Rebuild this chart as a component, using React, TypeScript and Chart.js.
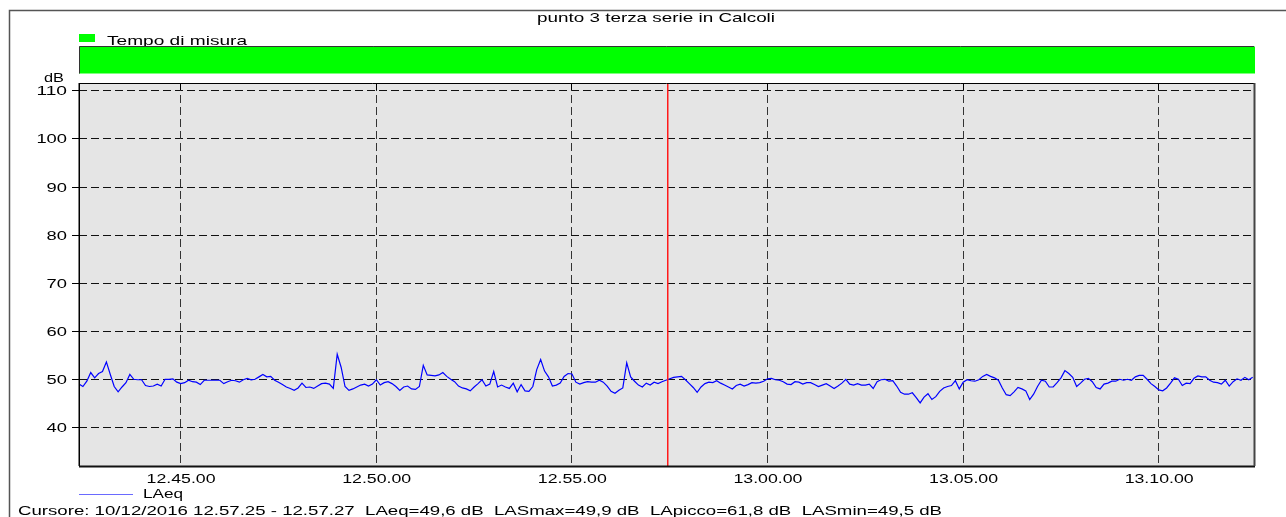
import React, { useEffect, useRef } from "react";
import { Chart, registerables } from "chart.js";

Chart.register(...registerables);

// ---- data ----
const chartTitle = "punto 3 terza serie in Calcoli";
const bandLabel = "Tempo di misura";
const seriesLabel = "LAeq";
const yUnit = "dB";
const cursorText =
  "Cursore: 10/12/2016 12.57.25 - 12.57.27  LAeq=49,6 dB  LASmax=49,9 dB  LApicco=61,8 dB  LASmin=49,5 dB";

// time axis in minutes after 12:00
const startMinute = 42 + 25 / 60; // 12.42.25
const endMinute = 72 + 27 / 60; // 13.12.27
const stepMinute = 0.1; // 6 s samples
const cursorMinute = 57 + 27 / 60; // 12.57.27

const xTickValues = [45, 50, 55, 60, 65, 70];
const xTickLabels = ["12.45.00", "12.50.00", "12.55.00", "13.00.00", "13.05.00", "13.10.00"];
const yTickValues = [40, 50, 60, 70, 80, 90, 100, 110];
const yTickLabels = ["40", "50", "60", "70", "80", "90", "100", "110"];
const yMin = 32;
const yMax = 111.5;

const laeq = [
  49.0, 48.5, 49.6, 51.4, 50.3, 51.2, 51.6, 53.6, 51.0, 48.5,
  47.4, 48.4, 49.3, 51.0, 50.0, 49.9, 49.9, 48.7, 48.5, 48.6,
  49.0, 48.6, 50.0, 50.0, 50.1, 49.4, 49.1, 49.3, 49.8, 49.5,
  49.4, 48.9, 49.8, 49.8, 49.8, 49.8, 49.8, 49.1, 49.5, 49.8,
  49.7, 49.4, 49.9, 50.2, 49.9, 50.0, 50.5, 51.0, 50.5, 50.6,
  49.8, 49.4, 48.9, 48.4, 48.1, 47.7, 48.2, 49.2, 48.3, 48.4,
  48.1, 48.6, 49.1, 49.2, 49.0, 48.1, 55.2, 52.5, 48.5, 47.7,
  48.0, 48.4, 48.8, 49.0, 48.6, 49.0, 49.9, 48.8, 49.3, 49.5,
  49.1, 48.5, 47.7, 48.4, 48.6, 48.0, 47.9, 48.5, 52.9, 50.9,
  50.8, 50.7, 50.9, 51.4, 50.6, 50.0, 49.5, 48.6, 48.2, 48.0,
  47.6, 48.4, 49.1, 49.9, 48.6, 49.0, 51.6, 48.4, 48.8, 48.4,
  48.1, 49.2, 47.4, 48.9, 47.6, 47.5, 48.5, 52.0, 54.1, 51.7,
  50.5, 48.6, 48.8, 49.2, 50.6, 51.2, 51.1, 49.4, 49.0, 49.3,
  49.5, 49.4, 49.4, 49.8, 49.4, 48.6, 47.5, 47.1, 47.7, 48.2,
  53.4, 50.5, 49.6, 48.8, 48.4, 49.2, 48.8, 49.4, 49.1, 49.5,
  49.8, 50.1, 50.4, 50.5, 50.6, 49.9, 49.1, 48.3, 47.3, 48.4,
  49.1, 49.4, 49.3, 49.7, 49.2, 48.8, 48.4, 48.0, 48.7, 49.0,
  48.6, 48.9, 49.3, 49.2, 49.3, 49.6, 50.1, 50.2, 49.9, 49.8,
  49.5, 49.0, 48.9, 49.5, 49.4, 49.0, 49.3, 49.3, 48.9, 48.5,
  48.8, 49.1, 48.6, 48.1, 48.6, 49.2, 50.0, 49.0, 48.8, 49.1,
  48.8, 48.8, 49.0, 48.1, 49.5, 49.9, 50.0, 49.6, 49.7, 48.6,
  47.3, 46.9, 46.9, 47.2, 46.2, 45.1, 46.3, 47.0, 45.8, 46.4,
  47.5, 48.2, 48.5, 48.7, 49.7, 48.0, 49.4, 49.9, 49.7, 49.6,
  49.9, 50.6, 51.0, 50.6, 50.3, 49.8, 48.2, 46.8, 46.6, 47.4,
  48.3, 48.0, 47.6, 45.8, 46.9, 48.5, 49.8, 49.6, 48.4, 48.4,
  49.3, 50.3, 51.8, 51.2, 50.4, 48.5, 49.2, 50.0, 50.2, 49.5,
  48.3, 48.0, 49.0, 49.2, 49.6, 49.6, 50.0, 49.8, 50.0, 49.8,
  50.5, 50.8, 50.8, 50.0, 49.1, 48.5, 47.8, 47.6, 48.2, 49.2,
  50.3, 50.0, 48.7, 49.2, 49.1, 50.2, 50.7, 50.5, 50.5, 49.8,
  49.4, 49.3, 49.0, 49.8, 48.6, 49.5, 50.1, 49.8, 50.4, 49.9,
  50.4,
];

// ---- styling ----
const FONT = '"Liberation Sans", Arial, Helvetica, sans-serif';
const W = 1286;
const H = 517;

function drawText(
  ctx: CanvasRenderingContext2D,
  text: string,
  x: number,
  y: number,
  size: number,
  align: "left" | "center" | "right",
  targetWidth: number | null,
  color = "#000",
  sxDefault = 1.46
) {
  ctx.save();
  ctx.font = `${size}px ${FONT}`;
  ctx.textBaseline = "alphabetic";
  ctx.textAlign = "left";
  ctx.fillStyle = color;
  const natural = ctx.measureText(text).width;
  const sx = targetWidth ? targetWidth / natural : sxDefault;
  const w = natural * sx;
  const left = align === "center" ? x - w / 2 : align === "right" ? x - w : x;
  ctx.translate(left, y);
  ctx.scale(sx, 1);
  ctx.fillText(text, 0, 0);
  ctx.restore();
}

const decorPlugin = {
  id: "decor",
  beforeDatasetsDraw(chart: any) {
    const { ctx, chartArea: a, scales } = chart;
    const xs = scales.x;
    const ys = scales.y;
    ctx.save();
    // plot background
    ctx.fillStyle = "#e5e5e5";
    ctx.fillRect(a.left, a.top, a.right - a.left, a.bottom - a.top);
    // horizontal dashed grid
    ctx.lineWidth = 1;
    ctx.setLineDash([8, 4]);
    ctx.strokeStyle = "#111";
    yTickValues.forEach((v) => {
      const y = Math.round(ys.getPixelForValue(v)) + 0.5;
      ctx.beginPath();
      ctx.moveTo(a.left, y);
      ctx.lineTo(a.right, y);
      ctx.stroke();
    });
    // vertical dashed grid
    ctx.strokeStyle = "#333";
    xTickValues.forEach((v) => {
      const x = Math.round(xs.getPixelForValue(v)) + 0.5;
      ctx.beginPath();
      ctx.moveTo(x, a.top);
      ctx.lineTo(x, a.bottom);
      ctx.stroke();
    });
    ctx.setLineDash([]);
    // short solid ticks at top
    ctx.strokeStyle = "#000";
    const yTop = ys.getPixelForValue(yTickValues[yTickValues.length - 1]);
    xTickValues.forEach((v) => {
      const x = Math.round(xs.getPixelForValue(v)) + 0.5;
      ctx.beginPath();
      ctx.moveTo(x, a.top);
      ctx.lineTo(x, yTop);
      ctx.stroke();
    });
    ctx.restore();
  },
  afterDatasetsDraw(chart: any) {
    const { ctx, chartArea: a, scales } = chart;
    const xs = scales.x;
    const ys = scales.y;
    ctx.save();
    ctx.setLineDash([]);
    // cursor line
    const cx = Math.round(xs.getPixelForValue(cursorMinute));
    ctx.fillStyle = "#ff1a1a";
    ctx.fillRect(cx, a.top, 1.5, a.bottom - a.top);

    // plot borders
    ctx.strokeStyle = "#000";
    ctx.lineWidth = 1;
    ctx.beginPath();
    ctx.moveTo(a.left, a.top + 0.5);
    ctx.lineTo(a.right, a.top + 0.5);
    ctx.stroke();
    ctx.lineWidth = 1.5;
    ctx.beginPath();
    ctx.moveTo(a.left + 0.25, a.top);
    ctx.lineTo(a.left + 0.25, a.bottom);
    ctx.stroke();
    ctx.lineWidth = 2;
    ctx.strokeStyle = "#111";
    ctx.beginPath();
    ctx.moveTo(a.left, a.bottom + 0.5);
    ctx.lineTo(a.right + 1, a.bottom + 0.5);
    ctx.stroke();
    ctx.strokeStyle = "#444";
    ctx.beginPath();
    ctx.moveTo(a.right + 0.5, a.top);
    ctx.lineTo(a.right + 0.5, a.bottom);
    ctx.stroke();

    // y ticks and labels
    ctx.strokeStyle = "#000";
    ctx.lineWidth = 1;
    yTickValues.forEach((v, i) => {
      const y = Math.round(ys.getPixelForValue(v)) + 0.5;
      ctx.beginPath();
      ctx.moveTo(a.left - 7, y);
      ctx.lineTo(a.left, y);
      ctx.stroke();
      const lbl = yTickLabels[i];
      drawText(ctx, lbl, a.left - 12, y + 4.5, 12.5, "right", lbl.length * 10.2);
    });
    drawText(ctx, yUnit, 44, 81.5, 12.5, "left", 20);

    // x labels
    xTickValues.forEach((v, i) => {
      const x = xs.getPixelForValue(v);
      drawText(ctx, xTickLabels[i], x + 1, 483, 12, "center", 69);
    });

    // outer frame
    ctx.strokeStyle = "#555";
    ctx.lineWidth = 1.5;
    ctx.beginPath();
    ctx.moveTo(9.5, H);
    ctx.lineTo(9.5, 10.5);
    ctx.lineTo(W, 10.5);
    ctx.stroke();

    // title
    drawText(ctx, chartTitle, 656, 22, 13, "center", 238);

    // band legend
    ctx.fillStyle = "#00ff00";
    ctx.fillRect(79, 34, 16, 8);
    drawText(ctx, bandLabel, 107, 44.5, 13, "left", 140);

    // green measuring band
    ctx.fillStyle = "#00ff00";
    ctx.fillRect(a.left, 46.5, a.right - a.left + 1, 27);
    ctx.strokeStyle = "#333";
    ctx.lineWidth = 1;
    ctx.beginPath();
    ctx.moveTo(a.left + 0.5, 73.5);
    ctx.lineTo(a.left + 0.5, 46.5);
    ctx.lineTo(a.right, 46.5);
    ctx.stroke();

    // series legend
    ctx.strokeStyle = "#6a6aff";
    ctx.lineWidth = 1;
    ctx.beginPath();
    ctx.moveTo(79, 494.5);
    ctx.lineTo(133, 494.5);
    ctx.stroke();
    drawText(ctx, seriesLabel, 143, 497.5, 13, "left", 40);

    // cursor info
    drawText(ctx, cursorText, 18, 515, 13, "left", 924);
    ctx.restore();
  },
};

export default function App() {
  const ref = useRef<HTMLCanvasElement | null>(null);
  useEffect(() => {
    if (!ref.current) return;
    const points = laeq.map((v, i) => ({ x: startMinute + i * stepMinute, y: v }));
    const chart = new Chart(ref.current, {
      type: "line",
      data: {
        datasets: [
          {
            label: seriesLabel,
            data: points,
            borderColor: "#0000ff",
            borderWidth: 1.2,
            pointRadius: 0,
            tension: 0,
            fill: false,
          },
        ],
      },
      options: {
        animation: false,
        responsive: false,
        maintainAspectRatio: false,
        devicePixelRatio: 1,
        layout: { padding: { left: 79, top: 83, right: 32, bottom: 51 } },
        plugins: {
          legend: { display: false },
          title: { display: false },
          tooltip: { enabled: false },
        },
        scales: {
          x: {
            type: "linear",
            display: false,
            min: startMinute,
            max: endMinute,
          },
          y: {
            type: "linear",
            display: false,
            min: yMin,
            max: yMax,
          },
        },
      },
      plugins: [decorPlugin],
    });
    return () => chart.destroy();
  }, []);
  return (
    <div style={{ position: "absolute", left: 0, top: 0, width: W, height: H, background: "#fff" }}>
      <canvas ref={ref} width={W} height={H} style={{ display: "block", width: W, height: H }} />
    </div>
  );
}
